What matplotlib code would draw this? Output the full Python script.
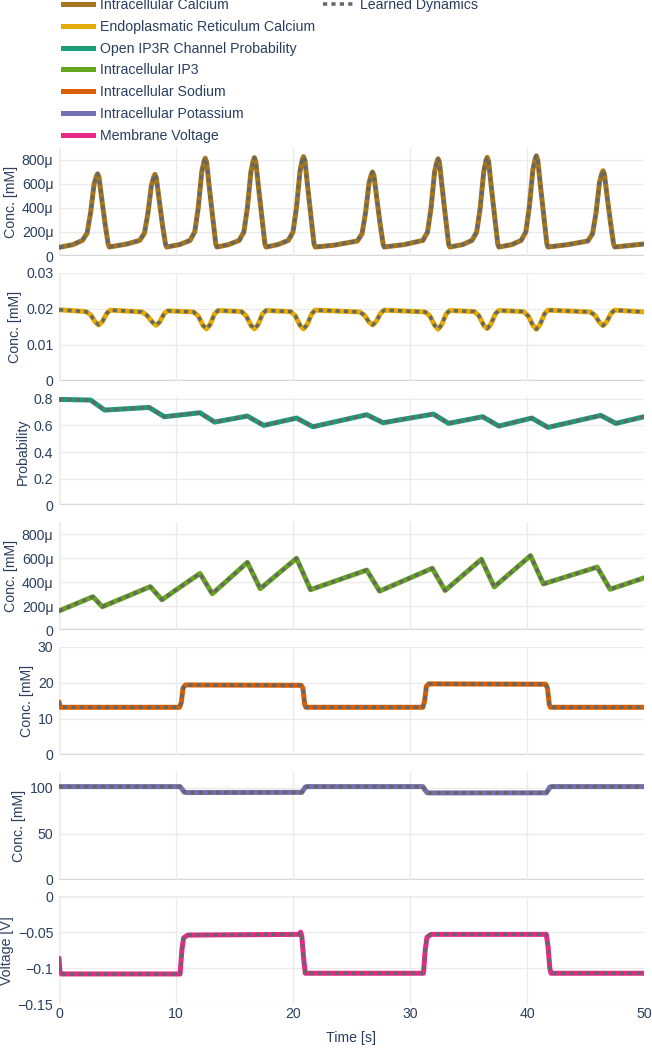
import matplotlib
matplotlib.use("Agg")
import matplotlib.pyplot as plt
from matplotlib.lines import Line2D

plt.rcParams['font.family'] = ['Liberation Sans', 'DejaVu Sans']

# ---- data ----
names = ["Intracellular Calcium", "Endoplasmatic Reticulum Calcium",
         "Open IP3R Channel Probability", "Intracellular IP3",
         "Intracellular Sodium", "Intracellular Potassium", "Membrane Voltage"]
colors = ["#a6761d", "#e6ab02", "#1b9e77", "#66a61e", "#d95f02", "#7570b3", "#e7298a"]
ylabels = ["Conc. [mM]", "Conc. [mM]", "Probability", "Conc. [mM]",
           "Conc. [mM]", "Conc. [mM]", "Voltage [V]"]

ca_t = [0, 1.2, 2.0, 2.4, 2.7, 3.0, 3.2, 3.3, 3.42, 3.65, 3.95, 4.2, 4.3,
        5.8, 6.9, 7.3, 7.6, 7.9, 8.1, 8.2, 8.32, 8.55, 8.85, 9.1, 9.2,
        10.3, 11.2, 11.6, 11.9, 12.2, 12.4, 12.5, 12.62, 12.85, 13.15, 13.4, 13.5,
        14.5, 15.4, 15.8, 16.1, 16.4, 16.6, 16.7, 16.82, 17.05, 17.35, 17.6, 17.7,
        18.7, 19.6, 20.0, 20.3, 20.6, 20.8, 20.9, 21.02, 21.25, 21.55, 21.8, 21.9,
        23.5, 25.5, 25.9, 26.2, 26.5, 26.7, 26.8, 26.92, 27.15, 27.45, 27.7, 27.8,
        29.5, 31.1, 31.5, 31.8, 32.1, 32.3, 32.4, 32.52, 32.75, 33.05, 33.3, 33.4,
        34.5, 35.3, 35.7, 36.0, 36.3, 36.5, 36.6, 36.72, 36.95, 37.25, 37.5, 37.6,
        38.7, 39.5, 39.9, 40.2, 40.5, 40.7, 40.8, 40.92, 41.15, 41.45, 41.7, 41.8,
        43.5, 45.2, 45.6, 45.9, 46.2, 46.4, 46.5, 46.62, 46.85, 47.15, 47.4, 47.5, 50]
ca_v = [72, 95, 130, 190, 360, 600, 665, 685, 655, 480, 260, 100, 75,
        100, 130, 190, 355, 590, 660, 680, 650, 475, 255, 100, 75,
        95, 130, 200, 400, 700, 790, 815, 780, 570, 310, 100, 75,
        95, 130, 200, 400, 700, 795, 820, 785, 575, 315, 100, 75,
        95, 130, 200, 405, 710, 805, 828, 795, 580, 315, 100, 75,
        90, 125, 185, 360, 610, 680, 700, 670, 490, 265, 100, 75,
        95, 130, 200, 400, 700, 785, 810, 780, 570, 310, 100, 75,
        95, 130, 200, 400, 700, 798, 822, 788, 575, 315, 100, 75,
        95, 130, 200, 410, 715, 810, 835, 800, 585, 320, 100, 75,
        95, 125, 185, 360, 615, 690, 710, 680, 495, 270, 100, 75, 100]
ca_v = [v * 1e-6 for v in ca_v]

er_t = [0, 2.3, 2.7, 3.1, 3.4, 3.7, 4.1, 4.4,
        7.1, 7.5, 8.0, 8.3, 8.6, 9.0, 9.3,
        11.5, 11.9, 12.3, 12.6, 12.9, 13.3, 13.6,
        15.6, 16.0, 16.4, 16.7, 17.0, 17.4, 17.7,
        19.8, 20.2, 20.6, 20.9, 21.2, 21.6, 21.9,
        25.7, 26.1, 26.5, 26.8, 27.1, 27.5, 27.8,
        31.3, 31.7, 32.1, 32.4, 32.7, 33.1, 33.4,
        35.5, 35.9, 36.3, 36.6, 36.9, 37.3, 37.6,
        39.7, 40.1, 40.5, 40.8, 41.1, 41.5, 41.8,
        45.4, 45.8, 46.2, 46.5, 46.8, 47.2, 47.5, 50]
er_v = [0.0197, 0.0192, 0.0183, 0.0163, 0.0155, 0.0164, 0.0188, 0.0196,
        0.0191, 0.0182, 0.0162, 0.0154, 0.0163, 0.0187, 0.0194,
        0.0191, 0.0180, 0.0154, 0.0144, 0.0155, 0.0186, 0.0195,
        0.0192, 0.0180, 0.0154, 0.0144, 0.0155, 0.0186, 0.0195,
        0.0192, 0.0180, 0.0154, 0.0144, 0.0155, 0.0186, 0.0196,
        0.0191, 0.0182, 0.0163, 0.0155, 0.0164, 0.0188, 0.0196,
        0.0191, 0.0180, 0.0154, 0.0143, 0.0155, 0.0186, 0.0195,
        0.0192, 0.0180, 0.0154, 0.0145, 0.0156, 0.0186, 0.0195,
        0.0192, 0.0180, 0.0154, 0.0143, 0.0155, 0.0186, 0.0196,
        0.0191, 0.0182, 0.0162, 0.0153, 0.0163, 0.0188, 0.0196, 0.0191]

ip3r_t = [0, 2.7, 3.9, 7.7, 9.0, 12.05, 13.3, 16.1, 17.5, 20.3, 21.7,
          26.3, 27.7, 32.0, 33.3, 36.2, 37.6, 40.4, 41.8, 46.3, 47.6, 50]
ip3r_v = [0.795, 0.79, 0.715, 0.735, 0.665, 0.695, 0.625, 0.67, 0.60, 0.655, 0.59,
          0.68, 0.62, 0.685, 0.615, 0.665, 0.595, 0.655, 0.585, 0.675, 0.615, 0.665]

ip3_t = [0, 2.9, 3.7, 7.8, 8.8, 9.9, 12.05, 13.1, 16.1, 17.2, 20.3, 21.5,
         26.3, 27.4, 31.9, 33.0, 36.1, 37.2, 40.3, 41.4, 46.0, 47.1, 50]
ip3_v = [160, 278, 195, 362, 253, 328, 472, 303, 564, 345, 598, 337,
         500, 325, 515, 330, 590, 360, 620, 385, 525, 340, 435]
ip3_v = [v * 1e-6 for v in ip3_v]

na_t = [0, 0.1, 10.3, 10.45, 10.6, 10.8, 20.7, 20.85, 21.0, 21.1,
        31.1, 31.25, 31.4, 31.6, 41.6, 41.75, 41.9, 42.0, 50]
na_v = [14.7, 13.2, 13.2, 14.5, 18.5, 19.4, 19.3, 18.5, 14.0, 13.2,
        13.2, 15.0, 19.0, 19.7, 19.6, 18.5, 14.0, 13.2, 13.2]

k_t = [0, 10.35, 10.5, 10.7, 10.9, 20.75, 20.9, 21.05, 21.2,
       31.1, 31.25, 31.45, 31.6, 41.65, 41.8, 41.95, 42.1, 50]
k_v = [101.5, 101.5, 99.0, 95.5, 95.0, 95.2, 98.0, 101.0, 101.5,
       101.5, 98.5, 95.0, 94.6, 94.7, 97.5, 101.0, 101.5, 101.5]

v_t = [0, 0.08, 0.2, 10.35, 10.5, 10.65, 11.0, 20.5, 20.65, 20.75, 20.9, 21.05,
       31.15, 31.3, 31.45, 31.8, 41.65, 41.8, 41.95, 42.05, 50]
v_v = [-0.086, -0.105, -0.108, -0.108, -0.075, -0.058, -0.054, -0.053, -0.050, -0.055,
       -0.085, -0.107, -0.107, -0.075, -0.057, -0.053, -0.053, -0.070, -0.100, -0.107, -0.107]

series_t = [ca_t, er_t, ip3r_t, ip3_t, na_t, k_t, v_t]
series_v = [ca_v, er_v, ip3r_v, ip3_v, na_v, k_v, v_v]

ylims = [(0, 900e-6), (0, 0.03), (0, 0.81), (0, 900e-6), (0, 30), (0, 118), (-0.15, 0)]
yticks = [[0, 200e-6, 400e-6, 600e-6, 800e-6], [0, 0.01, 0.02, 0.03],
          [0, 0.2, 0.4, 0.6, 0.8], [0, 200e-6, 400e-6, 600e-6, 800e-6],
          [0, 10, 20, 30], [0, 50, 100], [-0.15, -0.1, -0.05, 0]]
yticklabels = [["0", "200μ", "400μ", "600μ", "800μ"], ["0", "0.01", "0.02", "0.03"],
               ["0", "0.2", "0.4", "0.6", "0.8"], ["0", "200μ", "400μ", "600μ", "800μ"],
               ["0", "10", "20", "30"], ["0", "50", "100"],
               ["−0.15", "−0.1", "−0.05", "0"]]
xticks = [0, 10, 20, 30, 40, 50]

# ---- figure ----
W, H = 652, 1050
TXT = "#2a3f5f"
GRID = "#ebebeb"
ZERO = "#d4d4d4"
LEARN = "#666666"
FS = 10.2
px = 0.72  # points per pixel at 100 dpi

fig = plt.figure(figsize=(W / 100, H / 100), dpi=100)
left, right = 59, 644
for i in range(7):
    top = 148 + i * 124.7
    ax = fig.add_axes([left / W, 1 - (top + 108) / H, (right - left) / W, 108 / H])
    ax.set_xlim(0, 50)
    ax.set_ylim(*ylims[i])
    for s in ax.spines.values():
        s.set_visible(False)
    ax.set_xticks(xticks)
    ax.set_yticks(yticks[i])
    ax.set_yticklabels(yticklabels[i])
    ax.tick_params(length=0, colors=TXT, labelsize=FS, pad=4)
    ax.tick_params(axis="x", pad=2)
    ax.grid(True, color=GRID, linewidth=1)
    ax.get_xgridlines()[-1].set_visible(False)
    ax.axhline(0, color=ZERO, linewidth=2.5 * px, zorder=1)
    ax.axvline(0, color=ZERO, linewidth=2.5 * px, zorder=1)
    ax.set_ylabel(ylabels[i], color=TXT, fontsize=FS, labelpad=3)
    if i < 6:
        ax.tick_params(labelbottom=False)
    else:
        ax.set_xlabel("Time [s]", color=TXT, fontsize=FS, labelpad=7)
    ax.plot(series_t[i], series_v[i], color=colors[i], linewidth=5 * px,
            solid_joinstyle="round", solid_capstyle="round", zorder=3)
    ln, = ax.plot(series_t[i], series_v[i], color=LEARN, linewidth=3.5 * px,
                  dash_capstyle="butt", zorder=4)
    ln.set_dashes((1.2, 1.2))

handles = [Line2D([], [], color=c, linewidth=5 * px) for c in colors]
leg1 = fig.legend(handles, names, loc="upper left",
                  bbox_to_anchor=(63 / W, 1 + 2 / H), frameon=False,
                  fontsize=FS, labelcolor=TXT, handlelength=2.15,
                  handletextpad=0.45, labelspacing=0.55, borderpad=0,
                  borderaxespad=0)
lh = Line2D([], [], color=LEARN, linewidth=3.5 * px, dash_capstyle="butt")
lh.set_dashes((1.2, 1.2))
leg2 = fig.legend([lh], ["Learned Dynamics"], loc="upper left",
                  bbox_to_anchor=(323 / W, 1 + 2 / H), frameon=False,
                  fontsize=FS, labelcolor=TXT, handlelength=2.15,
                  handletextpad=0.45, borderpad=0, borderaxespad=0)

fig.savefig("out.png", dpi=100)
